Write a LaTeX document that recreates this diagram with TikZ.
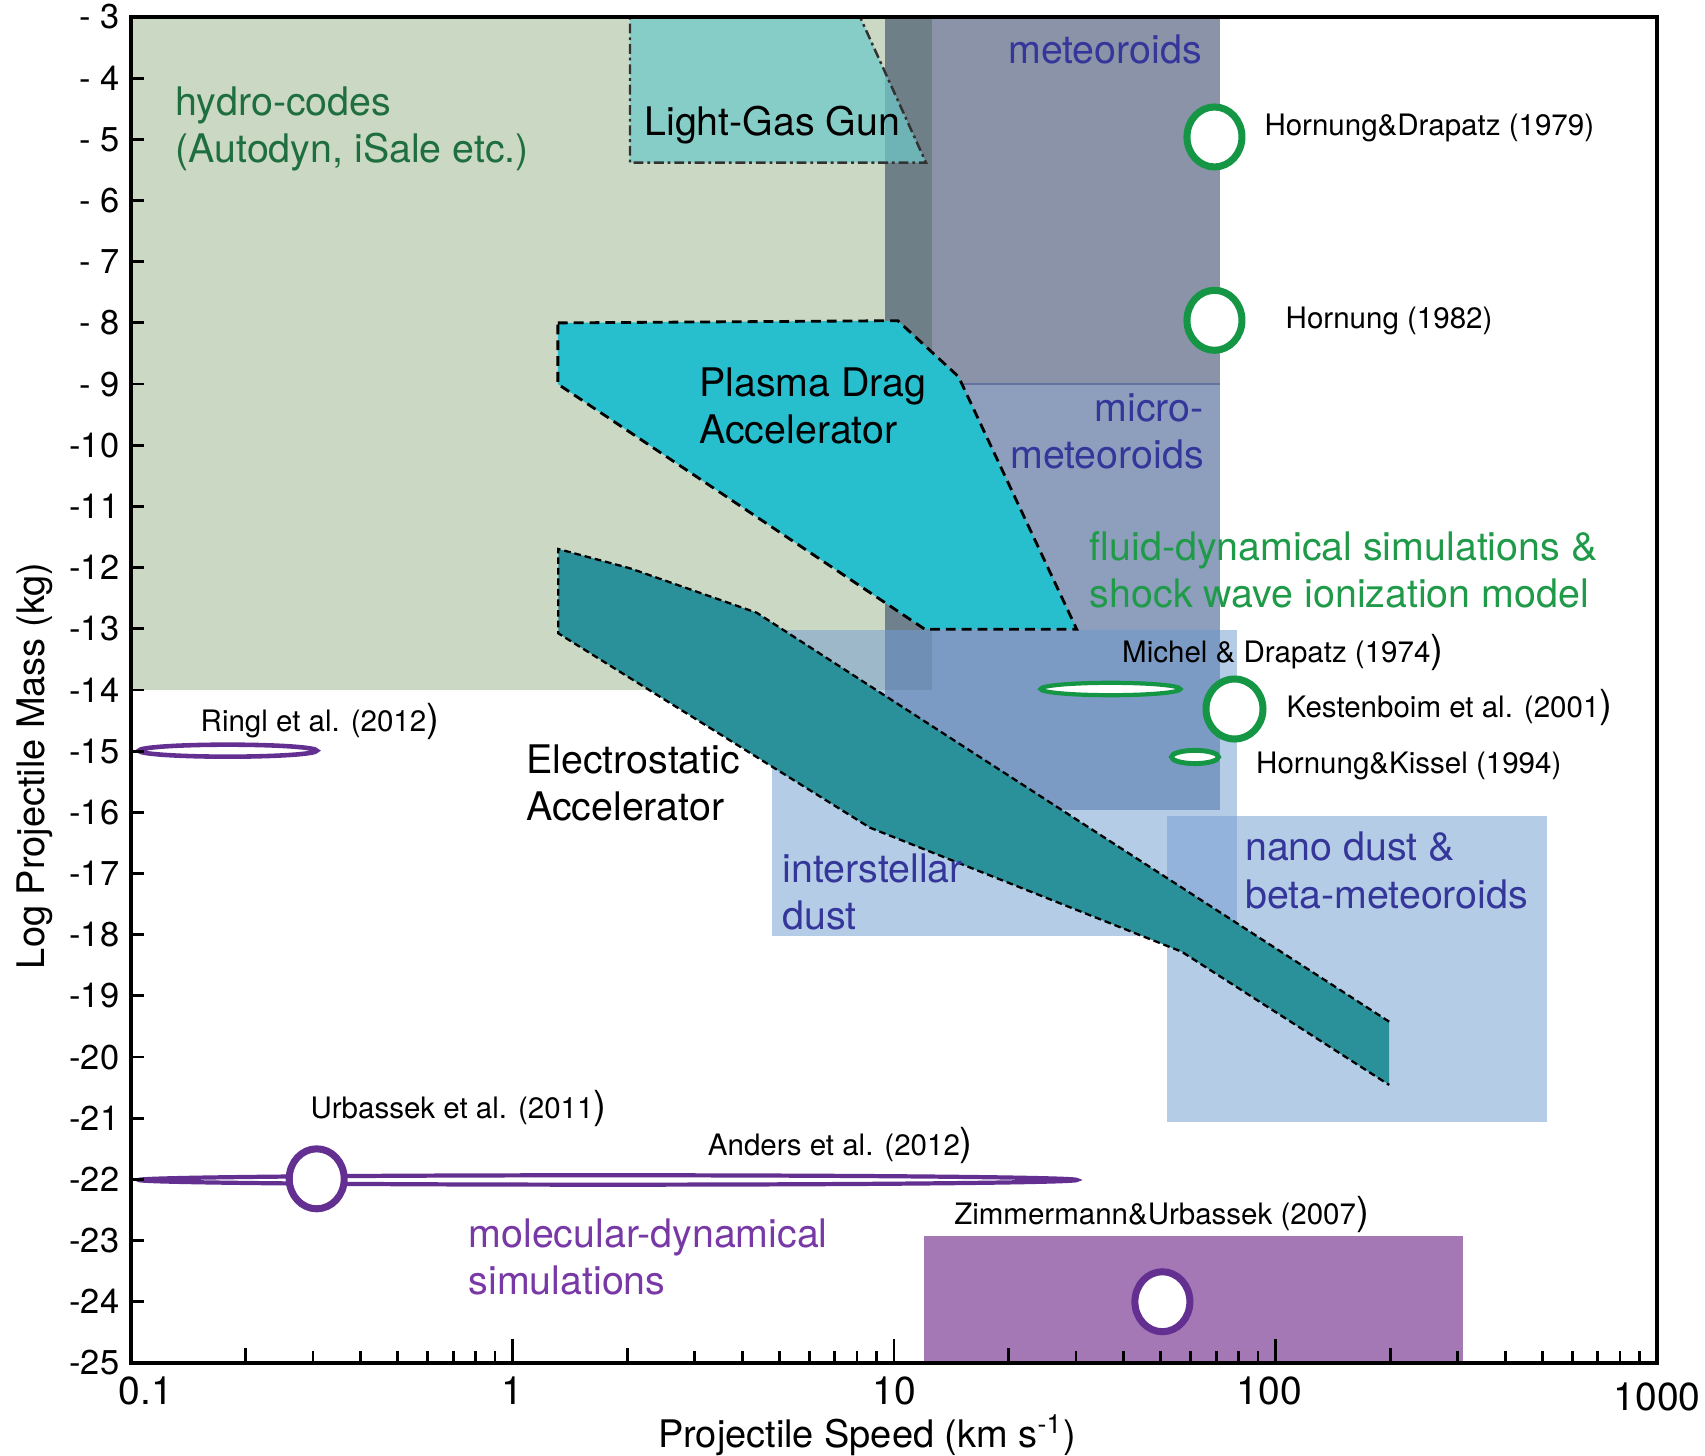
\documentclass[tikz,border=0pt]{standalone}
\usepackage{fontspec}
\setmainfont{TeX Gyre Heros}
\usetikzlibrary{positioning}

\definecolor{hydro}{RGB}{203,216,196}
\definecolor{meteor}{RGB}{138,147,168}
\definecolor{micro}{RGB}{141,159,189}
\definecolor{dust}{RGB}{181,204,230}
\definecolor{hydrometeor}{RGB}{110,127,136}
\definecolor{hydromicro}{RGB}{111,129,140}
\definecolor{hydrodust}{RGB}{156,184,201}
\definecolor{hydromicrodust}{RGB}{111,143,181}
\definecolor{microdust}{RGB}{123,155,197}
\definecolor{nanoisd}{RGB}{147,179,220}
\definecolor{lggfill}{RGB}{111,201,201}
\definecolor{plasma}{RGB}{39,190,206}
\definecolor{electro}{RGB}{42,145,155}
\definecolor{mdbox}{RGB}{163,120,181}
\definecolor{refgreen}{RGB}{20,150,68}
\definecolor{refpurple}{RGB}{99,48,146}
\definecolor{txtblue}{RGB}{53,54,154}
\definecolor{txtgreen}{RGB}{30,110,63}
\definecolor{txtfluid}{RGB}{31,154,72}
\definecolor{txtpurple}{RGB}{120,56,165}
\definecolor{edgeline}{RGB}{100,115,160}

\newcommand{\bigparen}{{\fontsize{11}{12}\selectfont )}}

\tikzset{
  bigtxt/.style={inner sep=0pt, anchor=base west, align=left,
    font=\fontsize{11.2}{13.4}\selectfont},
  reftxt/.style={inner sep=0pt, anchor=base west,
    font=\fontsize{8.4}{10}\selectfont},
  ytick/.style={inner sep=0pt, anchor=east, xshift=-0.11cm,
    font=\fontsize{9.8}{10}\selectfont},
  xtick/.style={inner sep=0pt, anchor=north, yshift=-0.13cm,
    font=\fontsize{11.1}{12}\selectfont},
  axtitle/.style={inner sep=0pt, font=\fontsize{10.8}{12}\selectfont},
  greenring/.style={draw=refgreen, fill=white, line width=2pt},
  purplering/.style={draw=refpurple, fill=white, line width=2pt},
}

\begin{document}
\begin{tikzpicture}[x=3.815cm, y=0.6118cm]
  \useasboundingbox (-1.3434,-26.505) rectangle (3.1258,-2.722);

  % regimes
  \fill[fill=hydro] (-1,-3) rectangle (1.099,-14);
  \fill[fill=meteor] (0.976,-3) rectangle (1.855,-9);
  \fill[fill=micro] (0.976,-9) rectangle (1.855,-15.96);
  \fill[fill=dust] (0.681,-13.02) rectangle (1.899,-18.02);
  \fill[fill=dust] (1.715,-16.06) rectangle (2.711,-21.06);
  \fill[fill=microdust] (0.976,-13.02) rectangle (1.855,-15.96);
  \fill[fill=hydrodust] (0.681,-13.02) rectangle (0.976,-14);
  \fill[fill=hydrometeor] (0.976,-3) rectangle (1.099,-9);
  \fill[fill=hydromicro] (0.976,-9) rectangle (1.099,-13.02);
  \fill[fill=hydromicrodust] (0.976,-13.02) rectangle (1.099,-14);
  \fill[fill=nanoisd] (1.715,-16.06) rectangle (1.899,-18.02);
  \draw[draw=edgeline, line width=0.4pt] (0.976,-9) -- (1.855,-9);
  \fill[fill=mdbox] (1.0776,-22.925) rectangle (2.491,-25);

  % accelerators
  \filldraw[fill=lggfill, fill opacity=0.73, draw={rgb,255:red,50;green,50;blue,50},
    line width=0.7pt, dash pattern=on 2.8pt off 1.1pt on 0.8pt off 1.1pt]
    (0.308,-3) -- (0.911,-3) -- (1.084,-5.382) -- (0.308,-5.382) -- cycle;
  \filldraw[fill=plasma, line width=0.8pt, dash pattern=on 2.8pt off 1.7pt]
    (0.119,-8) -- (1.010,-7.964) -- (1.169,-8.879) -- (1.479,-13.008)
    -- (1.081,-13.008) -- (0.119,-9) -- cycle;
  \fill[fill=electro]
    (0.120,-11.696) -- (0.308,-12.011) -- (0.640,-12.737) -- (2.298,-19.422)
    -- (2.298,-20.456) -- (1.754,-18.278) -- (0.937,-16.251) -- (0.120,-13.074) -- cycle;
  \draw[line width=0.65pt, dash pattern=on 1.9pt off 1.1pt]
    (2.298,-19.422) -- (0.640,-12.737) -- (0.308,-12.011) -- (0.120,-11.696)
    -- (0.120,-13.074) -- (0.937,-16.251) -- (1.754,-18.278) -- (2.298,-20.456);

  % experiments and simulations
  \draw[greenring] (1.840,-4.961) ellipse [x radius=0.275cm, y radius=0.30cm];
  \draw[greenring] (1.840,-7.958) ellipse [x radius=0.275cm, y radius=0.30cm];
  \draw[greenring, line width=1.2pt] (1.5675,-13.984) ellipse [x radius=0.70cm, y radius=0.062cm];
  \draw[greenring] (1.8925,-14.311) ellipse [x radius=0.285cm, y radius=0.30cm];
  \draw[greenring, line width=1.4pt] (1.789,-15.095) ellipse [x radius=0.235cm, y radius=0.066cm];
  \draw[purplering, line width=1.3pt] (-0.7463,-14.992) ellipse [x radius=0.89cm, y radius=0.06cm];
  \draw[purplering, line width=1.2pt] (0.25,-22.009) ellipse [x radius=4.69cm, y radius=0.047cm];
  \draw[purplering] (-0.5132,-21.99) ellipse [x radius=0.275cm, y radius=0.30cm];
  \draw[purplering] (1.7035,-23.999) ellipse [x radius=0.275cm, y radius=0.30cm];

  % axes
  \draw[line width=0.9pt] (-1,-3) rectangle (3,-25);
  \draw[line width=1.2pt] (-1,-3) -- (-1,-25) -- (3,-25);
  \foreach \m in {4,...,24}
    \draw[line width=0.8pt] (-1,-\m) -- ++(0.13cm,0);
  \foreach \d in {-1,0,1,2} {
    \draw[line width=0.8pt] (\d,-25) -- ++(0,0.24cm);
    \draw[line width=0.8pt] ({\d+log10(2)},-25) -- ++(0,0.15cm);
    \foreach \k in {3,...,9}
      \draw[line width=0.8pt] ({\d+log10(\k)},-25) -- ++(0,0.12cm);
  }
  \foreach \m in {3,...,9}
    \node[ytick] (yl\m) at (-1,-\m) {- \m};
  \foreach \m in {10,...,25}
    \node[ytick] (yl\m) at (-1,-\m) {-\m};
  \node[xtick, xshift=0.15cm] (xl0) at (-1,-25) {0.1};
  \node[xtick] (xl1) at (0,-25) {1};
  \node[xtick] (xl2) at (1,-25) {10};
  \node[xtick, xshift=-0.06cm] (xl3) at (2,-25) {100};
  \node[xtick, yshift=-0.06cm] (xl4) at (3,-25) {1000};
  \node[axtitle] (xtitle) at (0.929,-26.177) {Projectile Speed (km s\textsuperscript{-1})};
  \node[axtitle, rotate=90] (ytitle) at (-1.2516,-15.24) {Log Projectile Mass (kg)};

  % labels (base = last line)
  \node[bigtxt, text=txtgreen] (hydrocodes) at (-0.8847,-5.381) {hydro-codes\\(Autodyn, iSale etc.)};
  \node[bigtxt] (lgg) at (0.3439,-4.929) {Light-Gas Gun};
  \node[bigtxt, anchor=base east, text=txtblue] (meteoroids) at (1.8087,-3.757) {meteoroids};
  \node[bigtxt, anchor=base east, align=right, text=txtblue] (micrometeoroids) at (1.8139,-10.377) {micro-\\meteoroids};
  \node[bigtxt] (pda) at (0.4881,-9.968) {Plasma Drag\\Accelerator};
  \node[bigtxt, text=txtfluid] (fluid) at (1.5117,-12.649) {fluid-dynamical simulations \&\\shock wave ionization model};
  \node[bigtxt, text=txtblue] (nanodust) at (1.9187,-17.564) {nano dust \&\\beta-meteoroids};
  \node[bigtxt, text=txtblue] (isd) at (0.7056,-17.921) {interstellar\\dust};
  \node[bigtxt] (esa) at (0.0341,-16.137) {Electrostatic\\Accelerator};
  \node[bigtxt, text=txtpurple] (mdsim) at (-0.1169,-23.889) {molecular-dynamical\\simulations};

  \node[reftxt] (hd79) at (1.9693,-4.929) {Hornung\&Drapatz (1979)};
  \node[reftxt] (h82) at (2.0249,-8.088) {Hornung (1982)};
  \node[reftxt] (md74) at (1.5963,-13.556) {Michel \& Drapatz (1974\bigparen};
  \node[reftxt] (ke01) at (2.0275,-14.451) {Kestenboim et al. (2001\bigparen};
  \node[reftxt] (hk94) at (1.9476,-15.360) {Hornung\&Kissel (1994)};
  \node[reftxt] (ri12) at (-0.8191,-14.682) {Ringl et al. (2012\bigparen};
  \node[reftxt] (ur11) at (-0.5308,-21.001) {Urbassek et al. (2011\bigparen};
  \node[reftxt] (an12) at (0.5104,-21.601) {Anders et al. (2012\bigparen};
  \node[reftxt] (zu07) at (1.1562,-22.729) {Zimmermann\&Urbassek (2007\bigparen};
\end{tikzpicture}
\end{document}
